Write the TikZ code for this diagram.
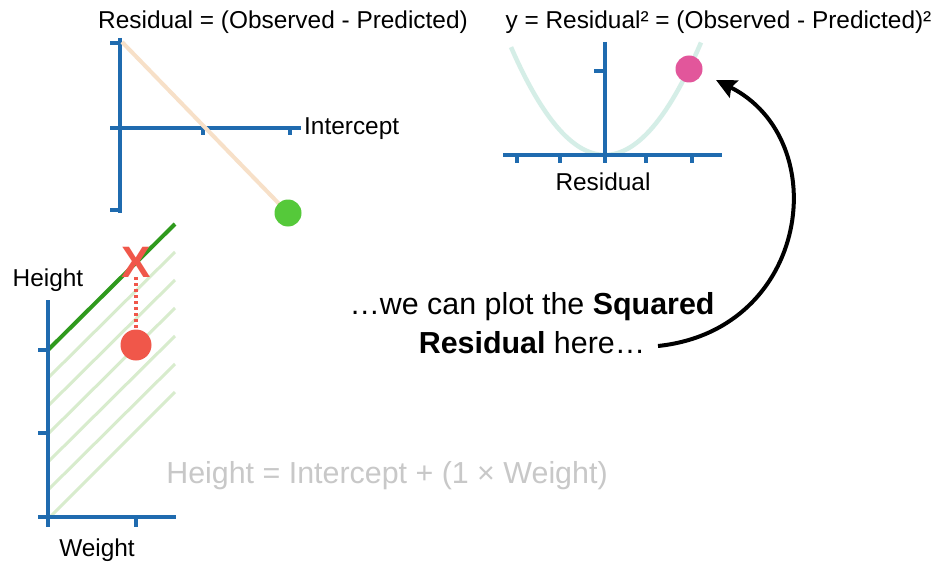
\documentclass[tikz,border=0pt]{standalone}
\usepackage{fontspec}
\setmainfont{Liberation Sans}
\usetikzlibrary{arrows.meta}
\definecolor{axisblue}{HTML}{1F6BAF}
\definecolor{peachline}{HTML}{F7E0C8}
\definecolor{dotgreen}{HTML}{55C93A}
\definecolor{parabcol}{HTML}{D5EEE7}
\definecolor{dotpink}{HTML}{E2569B}
\definecolor{linegreen}{HTML}{2F9A1D}
\definecolor{hatchgreen}{HTML}{D8ECCD}
\definecolor{xred}{HTML}{F0574A}
\definecolor{textgrey}{HTML}{C8C8C8}
\newcommand\lblfont{\fontsize{24.4}{28}\selectfont}
\newcommand\bigfont{\fontsize{30.4}{39}\selectfont}
\begin{document}
\begin{tikzpicture}[x=1pt,y=-1pt,
  axis/.style={axisblue,line width=4pt},
  lbl/.style={font=\lblfont,inner sep=0pt},
  dot/.style={circle,inner sep=0pt,minimum size=#1},
  hatch/.style={hatchgreen,line width=3pt}]
\useasboundingbox[fill=white] (0,0) rectangle (945,583);

% ---------- top-left plot ----------
\node[lbl] (title1) at (283,22) {Residual = (Observed - Predicted)};
\draw[axis] (120,38) -- (120,213);
\draw[axis] (110,43) -- (120,43);
\draw[axis] (110,210) -- (120,210);
\draw[axis] (110,128) -- (301,128);
\draw[axis] (203,128) -- (203,135);
\draw[axis] (290,128) -- (290,135);
\coordinate (peachstart) at (122,42);
\draw[peachline,line width=4pt] (peachstart) -- (288,213);
\node[dot=27pt,fill=dotgreen] (greendot) at (288,213) {};
\node[lbl,anchor=west] (intercept) at (304,129) {Intercept};

% ---------- top-right plot ----------
\node[lbl] (title2) at (718.5,22) {y = Residual² = (Observed - Predicted)²};
\draw[parabcol,line width=4.5pt] plot[domain=-94:96,samples=60] ({605+\x},{155-0.0122*\x*\x});
\draw[axis] (605,42) -- (605,155);
\draw[axis] (594,71) -- (605,71);
\draw[axis] (503,155) -- (722,155);
\foreach \t in {517,560,605,646,692} \draw[axis] (\t,155) -- (\t,163);
\node[lbl] (residual) at (603,182) {Residual};
\node[dot=27pt,fill=dotpink] (pinkdot) at (689,69) {};

% ---------- bottom-left plot ----------
\foreach \k in {1,...,5}
  \draw[hatch] (175,{224+28*\k}) -- (48,{350+28*\k});
\draw[hatch] (175,392) -- (51,516);
\draw[linegreen,line width=4pt] (48,350) -- (175,224);
\draw[axis] (48,300) -- (48,527);
\draw[axis] (38,350) -- (48,350);
\draw[axis] (38,433) -- (48,433);
\draw[axis] (38,517) -- (176,517);
\draw[axis] (136,517) -- (136,527);
\node[lbl] (heightlbl) at (48,280) {Height};
\node[lbl] (weightlbl) at (97,550) {Weight};
\node[font=\fontsize{44}{44}\selectfont\bfseries,text=xred,inner sep=0pt,anchor=base] (xmark) at (136,277) {X};
\node[dot=31pt,fill=xred] (reddot) at (136,345) {};
\draw[xred,line width=3.5pt,dash pattern=on 3pt off 3pt] (xmark.base) -- (reddot.north);
\node[font=\bigfont,text=textgrey,inner sep=0pt] (equation) at (387,476) {Height = Intercept + (1 × Weight)};

% ---------- callout ----------
\node[font=\bigfont,align=center,inner sep=0pt] (callout) at (532,323)
  {…we can plot the \textbf{Squared}\\\textbf{Residual} here…};
\coordinate (arrowstart) at (658,346);
\coordinate (arrowend) at (716,80);
\draw[line width=4pt,-{Stealth[length=20pt,width=19pt,inset=3pt]}] (arrowstart) .. controls (810,330) and (835,140) .. (arrowend);
\end{tikzpicture}
\end{document}
